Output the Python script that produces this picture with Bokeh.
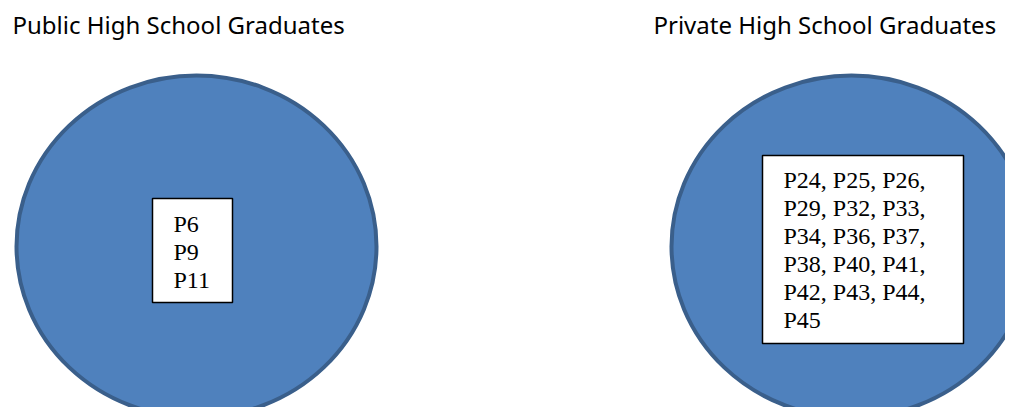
from bokeh.plotting import figure
from bokeh.models import Range1d
from bokeh.core.properties import value
from bokeh.embed import file_html
from bokeh.resources import INLINE

# ---- data ----
group_titles = ["Public High School Graduates", "Private High School Graduates"]
public_members = ["P6", "P9", "P11"]
private_members = ["P24", "P25", "P26", "P29", "P32", "P33", "P34", "P36", "P37",
                   "P38", "P40", "P41", "P42", "P43", "P44", "P45"]

# ---- layout (pixel-like coordinates, y downward) ----
W, H = 1005, 407
p = figure(width=W, height=H, output_backend="svg", toolbar_location=None,
           x_range=Range1d(0, W), y_range=Range1d(H, 0),
           min_border=0, outline_line_color=None)
p.axis.visible = False
p.grid.visible = False
p.background_fill_color = "white"

fill = "#4f81bd"
edge = "#3a5f8b"

# circles
cx = [196, 851]
cy = [246, 246]
p.ellipse(x=cx, y=cy, width=[360, 360], height=[342, 342],
          fill_color=fill, line_color=edge, line_width=4)

# titles
p.text(x=[12, 653], y=[24, 24], text=group_titles,
       text_font=value("Noto Sans"), text_font_size="24px", text_color="black",
       text_baseline="alphabetic", text_align="left")

# boxes
p.quad(left=[152, 762], right=[232, 963], top=[198, 155], bottom=[302, 343],
       fill_color="white", line_color="black", line_width=1.5)

# member lists
def wrap(items, per_line):
    lines = []
    for i in range(0, len(items), per_line):
        chunk = items[i:i + per_line]
        s = ", ".join(chunk)
        if per_line > 1 and i + per_line < len(items):
            s += ","
        lines.append(s)
    return lines

pub_lines = wrap(public_members, 1)
priv_lines = wrap(private_members, 3)

lh = 28
xs, ys, ts = [], [], []
for i, t in enumerate(pub_lines):
    xs.append(173); ys.append(223 + i * lh); ts.append(t)
for i, t in enumerate(priv_lines):
    xs.append(783); ys.append(179 + i * lh); ts.append(t)

p.text(x=xs, y=ys, text=ts, text_font=value("Liberation Serif"),
       text_font_size="24px", text_color="black",
       text_baseline="alphabetic", text_align="left")

open("out.html", "w").write(file_html(p, INLINE))
